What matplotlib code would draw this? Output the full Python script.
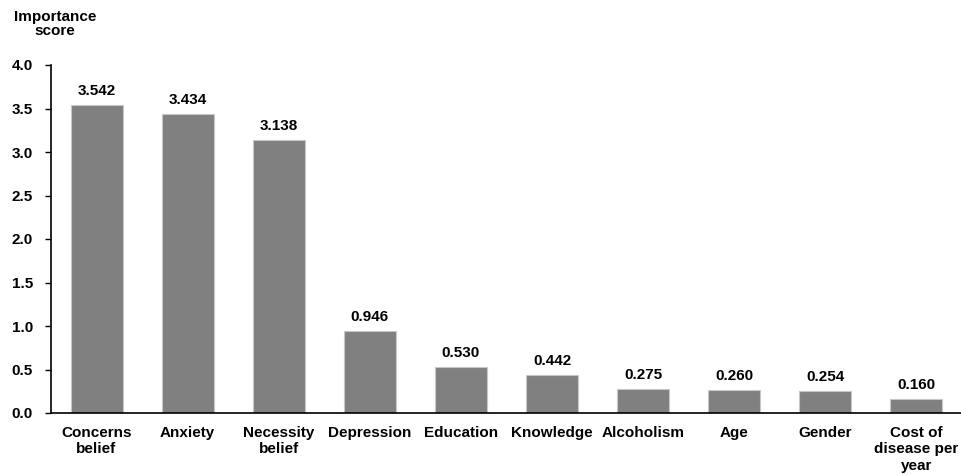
import matplotlib
matplotlib.use("Agg")
import matplotlib.pyplot as plt

categories = ["Concerns\nbelief", "Anxiety", "Necessity\nbelief", "Depression", "Education",
              "Knowledge", "Alcoholism", "Age", "Gender", "Cost of\ndisease per\nyear"]
values = [3.542, 3.434, 3.138, 0.946, 0.530, 0.442, 0.275, 0.260, 0.254, 0.160]
yticks = [0.0, 0.5, 1.0, 1.5, 2.0, 2.5, 3.0, 3.5, 4.0]

plt.rcParams['font.family'] = ['Liberation Sans', 'DejaVu Sans']
plt.rcParams['font.weight'] = 'bold'

fig = plt.figure(figsize=(9.61, 4.75), dpi=100)
ax = fig.add_axes([51/961, 1-413/475, 911/961, (413-65)/475])

x = range(len(categories))
bars = ax.bar(x, values, width=0.57, color='#808080', edgecolor='#c8c8c8', linewidth=0.8)
for xi, v in zip(x, values):
    ax.annotate(f"{v:.3f}", (xi, v), xytext=(0, 5), textcoords='offset points',
                ha='center', va='bottom', fontsize=11, fontweight='bold')

ax.set_xlim(-0.5, 9.5)
ax.set_ylim(0, 4.0)
ax.set_yticks(yticks)
ax.set_yticklabels([f"{t:.1f}" for t in yticks], fontsize=11, fontweight='bold')
ax.set_xticks(list(x))
ax.set_xticklabels(categories, fontsize=11, fontweight='bold', linespacing=1.2)
ax.tick_params(axis='x', length=0, pad=9.5)
ax.tick_params(axis='y', length=4, width=1, direction='out', pad=9)
ax.spines['top'].set_visible(False)
ax.spines['right'].set_visible(False)
ax.spines['left'].set_linewidth(1.2)
ax.spines['bottom'].set_linewidth(1.2)

fig.text(55/961, 1-24/475, "Importance\nscore", ha='center', va='center',
         fontsize=11, fontweight='bold', linespacing=1.0)

fig.savefig("out.png", dpi=100)
